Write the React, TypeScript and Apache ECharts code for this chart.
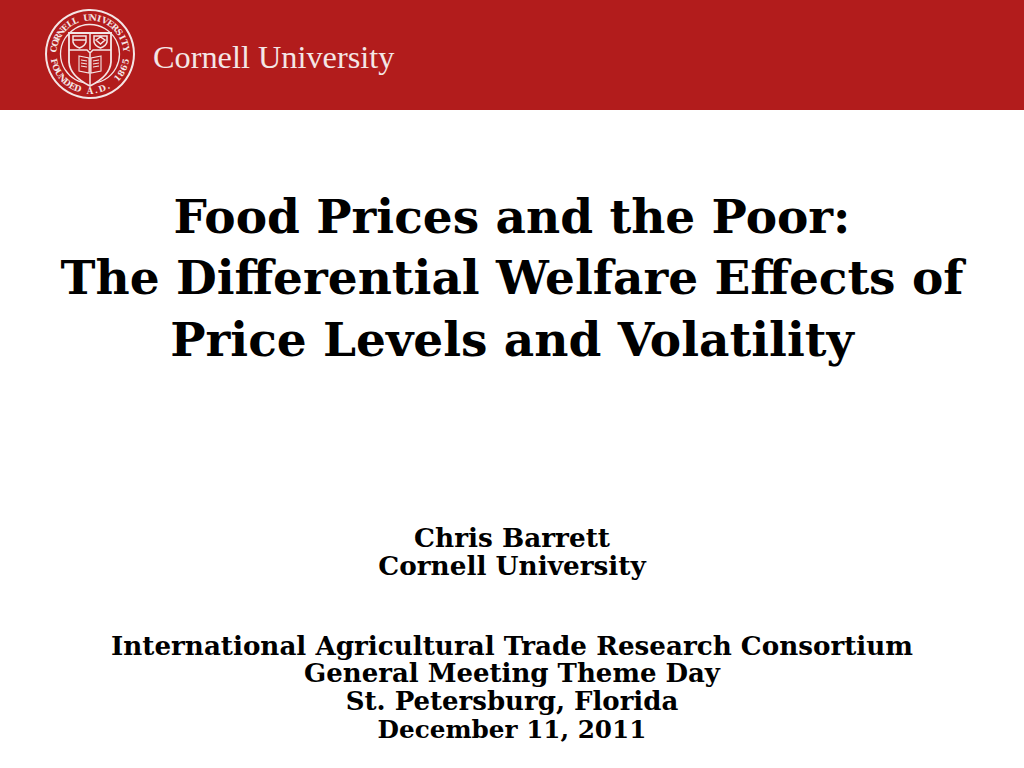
import React, { useEffect, useRef } from "react";
import * as echarts from "echarts";

const titleLines = ["Food Prices and the Poor:", "The Differential Welfare Effects of", "Price Levels and Volatility"];
const authorLines = ["Chris Barrett", "Cornell University"];
const eventLines = ["International Agricultural Trade Research Consortium", "General Meeting Theme Day", "St. Petersburg, Florida", "December 11, 2011"];
const sealTop = "CORNELL UNIVERSITY";
const sealBottom = "FOUNDED A.D. 1865";
const wordmark = "Cornell University";
const titleY = [216, 277, 339];
const authorY = [537, 565];
const eventY = [645, 673, 701, 729];
const eventSizes = [26.2, 26, 26, 24.7];

const shield = "M69 33 L111 33 L111 62 Q110 76 90 86 Q70 76 69 62 Z";
const crestLeft = "M73 36 L86 36 L86 42 Q85 46 79.5 48 Q74 46 73 42 Z M73 40 L86 40";
const crestRight = "M94 36 L107 36 L107 42 Q106 46 100.5 48 Q95 46 94 42 Z M96 40 L100.5 37 L105 40 L100.5 44 Z";
const dividers = "M69 50 L87 50 L90 53 L93 50 L111 50 M90 33 L90 50 M90 53 L90 85";
const book = "M79 56 L89 58 L89 73 L79 71 Z M101 56 L91 58 L91 73 L101 71 Z M81 60 L87 61 M81 63 L87 64 M81 66 L87 67 M93 61 L99 60 M93 64 L99 63 M93 67 L99 66";
echarts.graphic.registerShape("cuShield", echarts.graphic.extendPath(shield, {}));
echarts.graphic.registerShape("cuCrestL", echarts.graphic.extendPath(crestLeft, {}));
echarts.graphic.registerShape("cuCrestR", echarts.graphic.extendPath(crestRight, {}));
echarts.graphic.registerShape("cuDiv", echarts.graphic.extendPath(dividers, {}));
echarts.graphic.registerShape("cuBook", echarts.graphic.extendPath(book, {}));

export default function App() {
  const ref = useRef<HTMLDivElement>(null);
  useEffect(() => {
    document.body.style.margin = "0";
    const chart = echarts.init(ref.current!, null, { renderer: "svg" });
    const ink = "#f4e6e6";
    const cx = 90, cy = 54, r = 36.5;
    const t = (s: string, x: number, y: number, size: number, font = "'DejaVu Serif'", weight: any = "bold", fill = "#000", align: any = "center") => ({
      type: "text", x, y, style: { text: s, fill, font: `${weight} ${size}px ${font}`, textAlign: align, textVerticalAlign: "middle", lineHeight: Math.round(size * 1.02) },
    });
    const letter = (ch: string, deg: number, top: boolean) => {
      const a = (deg * Math.PI) / 180;
      return {
        type: "text",
        x: cx + r * Math.sin(a),
        y: cy - r * Math.cos(a),
        rotation: top ? -a : Math.PI - a,
        style: { text: ch, fill: ink, font: "bold 8.5px 'DejaVu Serif'", textAlign: "center", textVerticalAlign: "middle" },
      };
    };
    const topLetters = sealTop.split("").map((ch, i) => letter(ch, -82 + (164 * i) / (sealTop.length - 1), true));
    const bottomLetters = sealBottom.split("").map((ch, i) => letter(ch, 258 - (156 * i) / (sealBottom.length - 1), false));
    const line = { fill: "none", stroke: ink, lineWidth: 1.5 };
    chart.setOption({
      animation: false,
      graphic: [
        { type: "rect", shape: { x: 0, y: 0, width: 1024, height: 110 }, style: { fill: "#b21c1c" } },
        { type: "circle", shape: { cx, cy, r: 44 }, style: { fill: "none", stroke: ink, lineWidth: 2 } },
        { type: "circle", shape: { cx, cy, r: 29.5 }, style: { fill: "none", stroke: ink, lineWidth: 1.3 } },
        { type: "cuShield", style: { fill: "#b21c1c", stroke: ink, lineWidth: 1.8 } },
        { type: "cuCrestL", style: line },
        { type: "cuCrestR", style: line },
        { type: "cuDiv", style: line },
        { type: "cuBook", style: { fill: "none", stroke: ink, lineWidth: 1.1 } },
        ...topLetters,
        ...bottomLetters,
        t(wordmark, 153, 57, 32.3, "'Liberation Serif'", "normal", ink, "left"),
        ...titleLines.map((s, i) => t(s, 512, titleY[i], 47)),
        ...authorLines.map((s, i) => t(s, 512, authorY[i], 26.3)),
        ...eventLines.map((s, i) => t(s, 512, eventY[i], eventSizes[i])),
      ],
    });
    return () => chart.dispose();
  }, []);
  return <div ref={ref} style={{ width: 1024, height: 768 }} />;
}
